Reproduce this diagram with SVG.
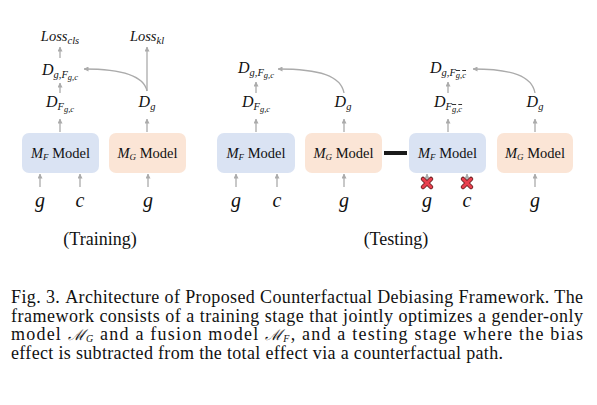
<svg xmlns="http://www.w3.org/2000/svg" width="597" height="405" viewBox="0 0 597 405">
<style>
.m{font-family:"Liberation Serif","DejaVu Serif",serif;font-style:italic;fill:#111}
.t{font-family:"Liberation Serif","Times New Roman",serif;fill:#111}
.arr{stroke:#ababab;stroke-width:1.3;fill:none;marker-end:url(#ah)}
.bF{fill:#dae3f3}
.bG{fill:#fbe5d6}
.ob{text-decoration:overline}
</style>
<defs>
<marker id="ah" viewBox="0 0 10 10" refX="9" refY="5" markerWidth="5" markerHeight="5" orient="auto-start-reverse" markerUnits="userSpaceOnUse">
<path d="M0,0 L10,5 L0,10 z" fill="#ababab"/>
</marker>
<g id="xmark">
<path d="M-4,-4 L4,4 M4,-4 L-4,4" stroke="#5a1a1a" stroke-width="4.5" stroke-linecap="round"/>
<path d="M-4,-4 L4,4 M4,-4 L-4,4" stroke="#e8414f" stroke-width="3" stroke-linecap="round"/>
</g>
</defs>

<!-- Training -->
<g id="train-MF">
<rect class="bF" x="22" y="133" width="77" height="40" rx="7"/>
<text class="t" x="60.5" y="158" font-size="14.5" text-anchor="middle"><tspan class="m">M</tspan><tspan class="m" font-size="9" dy="2">F</tspan><tspan dy="-2"> Model</tspan></text>
</g>
<g id="train-MG">
<rect class="bG" x="109" y="133" width="77" height="40" rx="7"/>
<text class="t" x="147.5" y="158" font-size="14.5" text-anchor="middle"><tspan class="m">M</tspan><tspan class="m" font-size="9" dy="2">G</tspan><tspan dy="-2"> Model</tspan></text>
</g>
<g id="train-inputs">
<text class="m" x="40" y="207" font-size="20" text-anchor="middle">g</text>
<text class="m" x="80" y="207" font-size="20" text-anchor="middle">c</text>
<text class="m" x="148" y="207" font-size="20" text-anchor="middle">g</text>
</g>
<g id="train-DF"><text class="m" x="60" y="107" font-size="16" text-anchor="middle">D<tspan font-size="10.5" dy="3">F</tspan><tspan font-size="8.5" dy="2">g,c</tspan></text></g>
<g id="train-DgF"><text class="m" x="60" y="75" font-size="16" text-anchor="middle">D<tspan font-size="10.5" dy="3">g,F</tspan><tspan font-size="8.5" dy="2">g,c</tspan></text></g>
<g id="train-Dg"><text class="m" x="147" y="107" font-size="16" text-anchor="middle">D<tspan font-size="10.5" dy="3">g</tspan></text></g>
<g id="train-Losscls"><text class="m" x="60" y="41" font-size="14.5" text-anchor="middle">Loss<tspan font-size="10.5" dy="3">cls</tspan></text></g>
<g id="train-Losskl"><text class="m" x="147" y="41" font-size="14.5" text-anchor="middle">Loss<tspan font-size="10.5" dy="3">kl</tspan></text></g>

<!-- Testing -->
<g id="test1-MF">
<rect class="bF" x="217" y="133" width="78" height="40" rx="7"/>
<text class="t" x="256" y="158" font-size="14.5" text-anchor="middle"><tspan class="m">M</tspan><tspan class="m" font-size="9" dy="2">F</tspan><tspan dy="-2"> Model</tspan></text>
</g>
<g id="test1-MG">
<rect class="bG" x="305" y="133" width="77" height="40" rx="7"/>
<text class="t" x="343.5" y="158" font-size="14.5" text-anchor="middle"><tspan class="m">M</tspan><tspan class="m" font-size="9" dy="2">G</tspan><tspan dy="-2"> Model</tspan></text>
</g>
<g id="test-bar"><rect x="384" y="151" width="23" height="4" fill="#1a1a1a"/></g>
<g id="test2-MF">
<rect class="bF" x="409" y="133" width="77" height="40" rx="7"/>
<text class="t" x="447.5" y="158" font-size="14.5" text-anchor="middle"><tspan class="m">M</tspan><tspan class="m" font-size="9" dy="2">F</tspan><tspan dy="-2"> Model</tspan></text>
</g>
<g id="test2-MG">
<rect class="bG" x="497" y="133" width="76" height="40" rx="7"/>
<text class="t" x="535" y="158" font-size="14.5" text-anchor="middle"><tspan class="m">M</tspan><tspan class="m" font-size="9" dy="2">G</tspan><tspan dy="-2"> Model</tspan></text>
</g>
<g id="test-inputs">
<text class="m" x="236" y="207" font-size="20" text-anchor="middle">g</text>
<text class="m" x="277" y="207" font-size="20" text-anchor="middle">c</text>
<text class="m" x="344" y="207" font-size="20" text-anchor="middle">g</text>
<text class="m" x="427" y="207" font-size="20" text-anchor="middle">g</text>
<text class="m" x="467" y="207" font-size="20" text-anchor="middle">c</text>
<text class="m" x="535" y="207" font-size="20" text-anchor="middle">g</text>
</g>
<g id="test1-DF"><text class="m" x="256" y="107" font-size="16" text-anchor="middle">D<tspan font-size="10.5" dy="3">F</tspan><tspan font-size="8.5" dy="2">g,c</tspan></text></g>
<g id="test1-DgF"><text class="m" x="256" y="73" font-size="16" text-anchor="middle">D<tspan font-size="10.5" dy="3">g,F</tspan><tspan font-size="8.5" dy="2">g,c</tspan></text></g>
<g id="test1-Dg"><text class="m" x="343" y="107" font-size="16" text-anchor="middle">D<tspan font-size="10.5" dy="3">g</tspan></text></g>
<g id="test2-DF"><text class="m" x="448" y="107" font-size="16" text-anchor="middle">D<tspan font-size="10.5" dy="3">F</tspan><tspan font-size="8.5" dy="2" class="ob">g</tspan><tspan font-size="8.5">,</tspan><tspan font-size="8.5" class="ob">c</tspan></text></g>
<g id="test2-DgF"><text class="m" x="448" y="73" font-size="16" text-anchor="middle">D<tspan font-size="10.5" dy="3">g,F</tspan><tspan font-size="8.5" dy="2" class="ob">g</tspan><tspan font-size="8.5">,</tspan><tspan font-size="8.5" class="ob">c</tspan></text></g>
<g id="test2-Dg"><text class="m" x="535" y="107" font-size="16" text-anchor="middle">D<tspan font-size="10.5" dy="3">g</tspan></text></g>

<g id="connectors">
<!-- training -->
<line class="arr" x1="40" y1="187" x2="40" y2="174"/>
<line class="arr" x1="80" y1="187" x2="80" y2="174"/>
<line class="arr" x1="148" y1="187" x2="148" y2="174"/>
<line class="arr" x1="60" y1="132" x2="60" y2="119"/>
<line class="arr" x1="60" y1="93" x2="60" y2="83"/>
<line class="arr" x1="60" y1="58" x2="60" y2="47"/>
<line class="arr" x1="147" y1="132" x2="147" y2="119"/>
<line class="arr" x1="147" y1="91" x2="147" y2="47"/>
<path class="arr" d="M147,91 C144,76 124,69 84,69"/>
<!-- testing 1 -->
<line class="arr" x1="236" y1="187" x2="236" y2="174"/>
<line class="arr" x1="277" y1="187" x2="277" y2="174"/>
<line class="arr" x1="344" y1="187" x2="344" y2="174"/>
<line class="arr" x1="256" y1="132" x2="256" y2="119"/>
<line class="arr" x1="256" y1="93" x2="256" y2="82"/>
<line class="arr" x1="344" y1="132" x2="344" y2="119"/>
<path class="arr" d="M344,93 C341,76 320,69 278,69"/>
<!-- testing 2 -->
<line class="arr" x1="427" y1="181" x2="427" y2="174"/>
<line class="arr" x1="467" y1="181" x2="467" y2="174"/>
<line class="arr" x1="535" y1="187" x2="535" y2="174"/>
<line class="arr" x1="448" y1="132" x2="448" y2="119"/>
<line class="arr" x1="448" y1="93" x2="448" y2="82"/>
<line class="arr" x1="535" y1="132" x2="535" y2="119"/>
<path class="arr" d="M535,93 C532,76 512,69 473,69"/>
<use href="#xmark" x="427" y="183"/>
<use href="#xmark" x="467" y="183"/>
</g>

<text class="t" x="100" y="245" font-size="18" text-anchor="middle">(Training)</text>
<text class="t" x="396" y="245" font-size="18" text-anchor="middle">(Testing)</text>

<g id="caption" class="t" font-size="18">
<text x="11" y="303" textLength="572" lengthAdjust="spacing">Fig. 3.<tspan dx="5">Architecture of Proposed Counterfactual Debiasing Framework. The</tspan></text>
<text x="11" y="321.5" textLength="572" lengthAdjust="spacing">framework consists of a training stage that jointly optimizes a gender-only</text>
<text x="11" y="340" textLength="572" lengthAdjust="spacing">model <tspan class="m" font-family="DejaVu Serif" font-size="15">ℳ</tspan><tspan class="m" font-size="10" dy="1.5">G</tspan><tspan dy="-1.5"> and a fusion model </tspan><tspan class="m" font-family="DejaVu Serif" font-size="15">ℳ</tspan><tspan class="m" font-size="10" dy="1.5">F</tspan><tspan dy="-1.5">, and a testing stage where the bias</tspan></text>
<text x="11" y="359" textLength="492" lengthAdjust="spacing">effect is subtracted from the total effect via a counterfactual path.</text>
</g>
</svg>
